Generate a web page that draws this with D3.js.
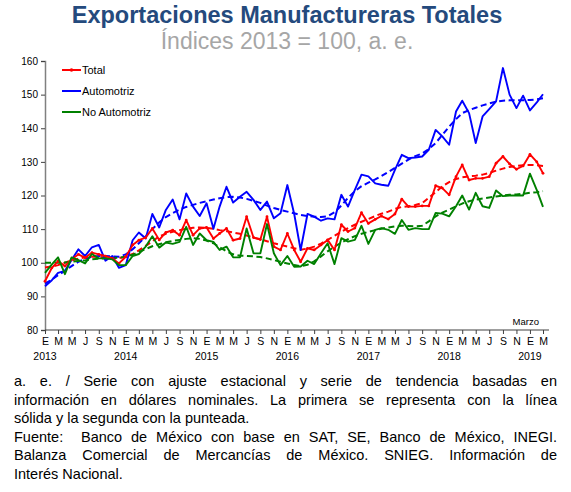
<!DOCTYPE html>
<html>
<head>
<meta charset="utf-8">
<script src="https://cdn.jsdelivr.net/npm/d3@7"></script>
<style>
  html, body { margin: 0; padding: 0; background: #fff; }
  svg { display: block; font-family: Arial, "Liberation Sans", sans-serif; }
</style>
</head>
<body>
<svg id="chart" width="571" height="492"></svg>
<script>
// ---------------- DATA ----------------
const startYear = 2013;            // first month: enero 2013
const nMonths = 75;                // enero 2013 ... marzo 2019
const monthLetters = ["E","F","M","A","M","J","J","A","S","O","N","D"];
const yTicks = [80, 90, 100, 110, 120, 130, 140, 150, 160];
const yearLabels = ["2013","2014","2015","2016","2017","2018","2019"];
const seriesNames = ["Total", "Automotriz", "No Automotriz"];

const total = [94.5,98.5,100.5,99.0,101.0,102.5,101.5,103.0,102.5,102.0,101.3,99.8,
  101.8,105.3,106.7,107.5,110.2,106.8,109.0,109.7,108.2,112.7,108.2,110.2,
  110.5,107.2,108.7,110.2,106.7,107.2,113.7,107.5,106.9,113.7,104.8,103.8,
  108.7,103.8,100.3,104.3,103.8,105.3,106.8,103.8,111.3,109.3,110.3,114.9,
  111.7,112.9,113.9,113.0,114.5,118.9,116.7,116.7,116.9,116.9,122.9,122.2,
  120.2,125.6,129.1,124.6,125.1,125.1,125.6,129.6,131.6,129.4,127.8,128.8,
  132.2,130.0,126.6];
const automotriz = [93.0,94.8,97.0,97.6,100.8,104.0,102.0,104.6,105.3,100.6,102.0,98.5,
  99.3,106.7,109.0,107.2,114.5,110.5,115.7,118.8,112.9,120.6,116.7,113.9,
  117.7,110.1,116.7,122.6,117.9,119.6,121.1,118.7,115.7,118.2,113.2,114.7,
  123.1,114.5,103.8,114.5,113.7,112.5,113.2,112.9,120.2,116.7,121.7,126.2,
  125.7,123.6,123.2,122.9,127.6,132.1,131.1,131.3,131.6,133.6,139.5,137.6,
  135.1,145.0,148.2,144.5,135.6,143.5,145.7,148.0,157.9,150.0,146.0,149.7,
  145.3,147.7,150.1];
const noAutomotriz = [97.0,99.5,101.6,96.6,101.6,100.8,99.8,102.6,101.3,101.3,101.0,99.3,
  99.3,102.0,102.6,104.8,107.9,104.5,106.0,105.6,106.2,110.7,105.3,108.7,
  106.7,106.2,103.8,104.8,101.6,101.6,110.2,102.8,102.8,111.5,102.8,99.3,
  102.0,98.8,98.9,100.6,99.6,102.8,105.8,99.6,107.3,106.3,106.8,111.0,
  105.6,109.8,110.3,109.8,108.6,112.7,109.8,110.3,110.0,110.0,114.8,114.6,
  113.8,116.8,120.0,115.8,120.8,116.8,116.3,121.5,119.8,120.0,120.0,120.0,
  126.5,121.6,116.6];

const totalTrend = [98.6,98.9,99.3,100.0,100.7,101.2,101.6,101.8,101.8,101.6,101.4,101.4,
  101.8,102.6,103.7,105.0,106.4,107.8,108.6,109.2,109.7,110.1,110.4,110.5,
  110.4,110.1,109.7,109.4,109.0,108.6,108.1,107.5,107.0,106.4,105.8,105.3,
  104.8,104.3,103.9,104.2,104.8,105.7,106.8,108.0,109.2,110.3,111.3,112.2,
  113.0,113.9,114.6,115.2,116.0,116.6,116.8,117.2,117.7,119.3,121.0,122.7,
  124.0,124.9,125.4,125.7,125.9,126.2,126.7,127.4,128.0,128.5,128.8,129.0,
  129.1,129.0,128.8];
const automotrizTrend = [93.8,95.0,96.3,97.6,99.0,100.3,101.2,101.8,102.0,102.0,101.9,101.8,
  102.5,104.0,105.8,107.8,110.0,112.0,113.6,114.8,115.8,116.6,117.2,117.8,
  118.3,118.8,119.2,119.5,119.6,119.4,119.0,118.4,117.8,117.0,116.3,115.7,
  115.2,114.7,114.2,113.9,113.7,113.6,113.8,115.0,117.0,119.3,121.3,122.8,
  123.8,124.8,125.8,127.0,128.2,129.5,130.7,131.7,132.5,133.8,135.6,138.0,
  140.5,142.7,144.5,145.4,146.1,146.8,147.4,147.9,148.2,148.3,148.3,148.3,
  148.4,148.6,148.9];
const noAutomotrizTrend = [100.0,100.0,100.0,100.1,100.3,100.5,100.7,101.0,101.2,101.3,101.4,101.5,
  101.8,102.4,103.2,104.1,104.9,105.5,106.1,106.5,106.8,107.1,107.3,107.1,
  106.6,105.8,104.6,103.4,102.5,102.1,102.0,101.9,101.7,101.3,100.8,100.3,
  99.8,99.3,99.0,99.4,100.4,101.9,103.4,104.8,106.0,107.0,107.9,108.6,
  109.2,109.7,110.1,110.5,110.8,111.0,110.9,110.8,111.0,112.3,113.8,114.9,
  115.8,116.8,117.6,118.3,118.8,119.1,119.4,119.7,120.0,120.2,120.3,120.5,
  120.8,121.0,121.3];

const titleText = "Exportaciones Manufactureras Totales";
const subtitleText = "Índices 2013 = 100, a. e.";
const lastLabel = "Marzo";
const noteParagraphs = [
  ["a. e. / Serie con ajuste estacional y serie de tendencia basadas en",
   "información en dólares nominales. La primera se representa con la línea",
   "sólida y la segunda con la punteada."],
  ["Fuente:  Banco de México con base en SAT, SE, Banco de México, INEGI.",
   "Balanza Comercial de Mercancías de México. SNIEG. Información de",
   "Interés Nacional."]
];

// ---------------- LAYOUT ----------------
const svg = d3.select("#chart");
const W = 571;
const plot = { left: 45, right: 543, top: 61, bottom: 330 };
const colors = { total: "#ff0000", auto: "#0000ff", noauto: "#008000" };

const dates = d3.range(nMonths).map(i => new Date(startYear, i, 1));
const x = d3.scaleTime().domain([dates[0], dates[nMonths - 1]]).range([plot.left, plot.right]);
const y = d3.scaleLinear().domain([80, 160]).range([plot.bottom, plot.top]);

// Title
svg.append("text").attr("x", 287).attr("y", 22.5).attr("text-anchor", "middle")
  .attr("font-size", 23.5).attr("font-weight", "bold").attr("fill", "#244a7d").text(titleText);
svg.append("text").attr("x", 287).attr("y", 49).attr("text-anchor", "middle")
  .attr("font-size", 23).attr("fill", "#a6a6a6").text(subtitleText);

// Y axis
const yAxis = d3.axisLeft(y).tickValues(yTicks).tickSize(4).tickPadding(3);
const gy = svg.append("g").attr("transform", `translate(${plot.left},0)`).call(yAxis);
gy.select(".domain").attr("stroke", "#808080").attr("stroke-width", 1.5);
gy.selectAll(".tick line").attr("stroke", "#404040");
gy.selectAll(".tick text").attr("font-size", 10).attr("fill", "#000").attr("font-family", "Arial, 'Liberation Sans', sans-serif");

// X axis
const tickDates = dates.filter((d, i) => i % 2 === 0);
const xAxis = d3.axisBottom(x).tickValues(tickDates).tickSize(4).tickPadding(4)
  .tickFormat(d => monthLetters[d.getMonth()]);
const gx = svg.append("g").attr("transform", `translate(0,${plot.bottom})`).call(xAxis);
gx.select(".domain").remove();
gx.append("line").attr("x1", plot.left).attr("x2", plot.right + 6).attr("y1", 0).attr("y2", 0)
  .attr("stroke", "#404040").attr("stroke-width", 1.2);
gx.selectAll(".tick line").attr("stroke", "#404040");
gx.selectAll(".tick text").attr("font-size", 10.5).attr("fill", "#000").attr("font-family", "Arial, 'Liberation Sans', sans-serif");

// Year labels under January ticks
const janDates = dates.filter(d => d.getMonth() === 0);
svg.append("g").selectAll("text").data(janDates).join("text")
  .attr("x", d => x(d)).attr("y", 359.5).attr("text-anchor", "middle")
  .attr("font-size", 10.5).attr("fill", "#000")
  .text((d, i) => yearLabels[i]);

svg.append("text").attr("x", plot.right - 4).attr("y", 325).attr("text-anchor", "end")
  .attr("font-size", 9.5).attr("fill", "#000").text(lastLabel);

// Lines
const line = d3.line().x((d, i) => x(dates[i])).y(d => y(d));
const plotG = svg.append("g");
function drawLine(data, color, dashed) {
  plotG.append("path").datum(data).attr("d", line).attr("fill", "none")
    .attr("stroke", color).attr("stroke-width", dashed ? 2 : 1.9)
    .attr("stroke-linejoin", "round")
    .attr("stroke-dasharray", dashed ? "6,3.5" : null);
}
drawLine(automotrizTrend, colors.auto, true);
drawLine(totalTrend, colors.total, true);
drawLine(noAutomotrizTrend, colors.noauto, true);
drawLine(automotriz, colors.auto, false);
drawLine(total, colors.total, false);
plotG.append("g").selectAll("circle").data(total).join("circle")
  .attr("cx", (d, i) => x(dates[i])).attr("cy", d => y(d)).attr("r", 1.4).attr("fill", colors.total);
drawLine(noAutomotriz, colors.noauto, false);

// Legend
const legend = svg.append("g");
const legendItems = [
  { name: seriesNames[0], color: colors.total, marker: true },
  { name: seriesNames[1], color: colors.auto },
  { name: seriesNames[2], color: colors.noauto }
];
legendItems.forEach((it, k) => {
  const ly = 70 + k * 21;
  legend.append("line").attr("x1", 62).attr("x2", 81).attr("y1", ly).attr("y2", ly)
    .attr("stroke", it.color).attr("stroke-width", 2);
  if (it.marker) legend.append("circle").attr("cx", 71.5).attr("cy", ly).attr("r", 1.8).attr("fill", it.color);
  legend.append("text").attr("x", 82).attr("y", ly + 4).attr("font-size", 11).attr("fill", "#000").text(it.name);
});

// Footnote (justified)
const noteG = svg.append("g");
const noteLeft = 14, noteRight = 557, noteFont = 14.5;
const baselines = [386, 404.5, 423, 441.5, 460, 478.5];
let li = 0;
noteParagraphs.forEach(par => {
  par.forEach((ln, j) => {
    const isLast = j === par.length - 1;
    const yb = baselines[li++];
    if (isLast) {
      noteG.append("text").attr("x", noteLeft).attr("y", yb).attr("font-size", noteFont)
        .attr("xml:space", "preserve").style("white-space", "pre").text(ln);
      return;
    }
    const words = ln.split(/ +/);
    const widths = words.map(w => {
      const t = noteG.append("text").attr("font-size", noteFont).text(w);
      const wd = t.node().getComputedTextLength(); t.remove(); return wd;
    });
    const totalW = d3.sum(widths);
    // "Fuente:  " has a double space: weight gaps by number of spaces
    const gapsRaw = ln.match(/ +/g).map(s => s.length);
    const gapUnits = d3.sum(gapsRaw);
    const unit = (noteRight - noteLeft - totalW) / gapUnits;
    let cx = noteLeft;
    words.forEach((w, k) => {
      noteG.append("text").attr("x", cx).attr("y", yb).attr("font-size", noteFont).text(w);
      cx += widths[k] + (k < gapsRaw.length ? gapsRaw[k] * unit : 0);
    });
  });
});
</script>
</body>
</html>
